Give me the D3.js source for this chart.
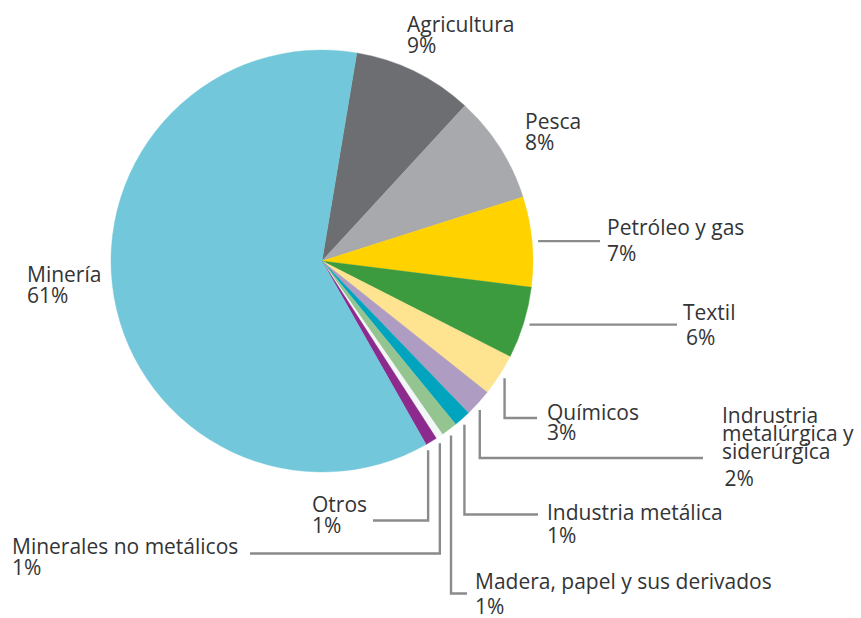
<!DOCTYPE html>
<html>
<head>
<meta charset="utf-8">
<script src="https://cdn.jsdelivr.net/npm/d3@7"></script>
<style>
  html, body { margin: 0; padding: 0; background: #fff; }
  svg { display: block; }
  text { font-family: "Open Sans", sans-serif; fill: #333436; }
</style>
</head>
<body>
<svg id="chart" width="861" height="618"></svg>
<script>
// ---- Data (shares in %) ----
const categories = [
  "Agricultura", "Pesca", "Petróleo y gas", "Textil", "Químicos",
  "Indrustria metalúrgica y siderúrgica", "Industria metálica",
  "Madera, papel y sus derivados", "Minerales no metálicos", "Otros", "Minería"
];
const shares = [9.2, 8.25, 6.9, 5.5, 3.2, 2.1, 1.3, 1.25, 0.55, 0.9, 60.85];
const pctLabels = ["9%", "8%", "7%", "6%", "3%", "2%", "1%", "1%", "1%", "1%", "61%"];
const labelLines = [
  ["Agricultura"], ["Pesca"], ["Petróleo y gas"], ["Textil"], ["Químicos"],
  ["Indrustria", "metalúrgica y", "siderúrgica"], ["Industria metálica"],
  ["Madera, papel y sus derivados"], ["Minerales no metálicos"], ["Otros"], ["Minería"]
];
const colors = ["#6d6e71", "#a7a9ac", "#ffd200", "#3c9b3e", "#fee390",
  "#ae9cc2", "#00a4be", "#94c48f", "#f2f6f6", "#8d2a8d", "#72c8da"];

// ---- Layout (positions of labels / leader elbows) ----
const cx = 322, cy = 261, R = 211;
const startDeg = 9.5;
const FS = 21;
// leader: null = no line; {type:"h", endX} horizontal; {type:"v", elbowY, endX} vertical then horizontal
const layout = [
  { x: 407, y: 31.5, gap: 21.5, leader: null },
  { x: 525, y: 128.5, gap: 21.5, leader: null },
  { x: 607, y: 235, gap: 25.5, leader: { type: "h", endX: 600 } },
  { x: 683, y: 320, gap: 25, pctDx: 3, leader: { type: "h", endX: 677 } },
  { x: 547, y: 420, gap: 20, leader: { type: "v", elbowY: 418, endX: 537 } },
  { x: 722, y: 423, gap: 18, pctDx: 2.5, pctGap: 26.5, leader: { type: "v", elbowY: 458, endX: 703, shift: 1.1 } },
  { x: 547, y: 519.5, gap: 23, leader: { type: "v", elbowY: 514.5, endX: 538, shift: 0.6 } },
  { x: 475, y: 588.5, gap: 25, leader: { type: "v", elbowY: 593.5, endX: 467, shift: 0.55 } },
  { x: 12, y: 553.5, gap: 21.5, leader: { type: "v", elbowY: 553.5, endX: 250, shift: 0.9 } },
  { x: 312, y: 511.5, gap: 21.5, leader: { type: "v", elbowY: 520.5, endX: 373, shift: 1.9 } },
  { x: 27, y: 281.5, gap: 21.5, leader: null }
];

const svg = d3.select("#chart");
const data = categories.map((c, i) => ({ cat: c, value: shares[i], i }));

const toRad = d => d * Math.PI / 180;
const pie = d3.pie().sort(null).value(d => d.value)
  .startAngle(toRad(startDeg)).endAngle(toRad(startDeg) + 2 * Math.PI);
const arcs = pie(data);
const arc = d3.arc().innerRadius(0).outerRadius(R);

const g = svg.append("g").attr("transform", `translate(${cx},${cy})`);
g.selectAll("path.slice").data(arcs).enter().append("path")
  .attr("class", "slice")
  .attr("d", arc)
  .attr("fill", d => colors[d.data.i])
  .attr("stroke", d => colors[d.data.i])
  .attr("stroke-width", 0.4);

// leader lines
const lineGen = d3.line();
arcs.forEach(a => {
  const L = layout[a.data.i].leader;
  if (!L) return;
  const mid = (a.startAngle + a.endAngle) / 2 + toRad(L.shift || 0);
  const r0 = R + 6;
  const sx = cx + r0 * Math.sin(mid), sy = cy - r0 * Math.cos(mid);
  let pts;
  if (L.type === "h") pts = [[sx, sy], [L.endX, sy]];
  else pts = [[sx, sy], [sx, L.elbowY], [L.endX, L.elbowY]];
  svg.append("path").attr("d", lineGen(pts))
    .attr("fill", "none").attr("stroke", "#8a8b8d").attr("stroke-width", 2.4);
});

// labels
arcs.forEach(a => {
  const i = a.data.i, lay = layout[i];
  const t = svg.append("g");
  labelLines[i].forEach((s, k) => {
    t.append("text").attr("x", lay.x).attr("y", lay.y + k * lay.gap)
      .attr("font-size", FS).text(s);
  });
  const n = labelLines[i].length;
  const py = lay.y + (n - 1) * lay.gap + (lay.pctGap || lay.gap);
  t.append("text").attr("x", lay.x + (lay.pctDx || 0)).attr("y", py)
    .attr("font-size", FS).text(pctLabels[i]);
});
</script>
</body>
</html>
